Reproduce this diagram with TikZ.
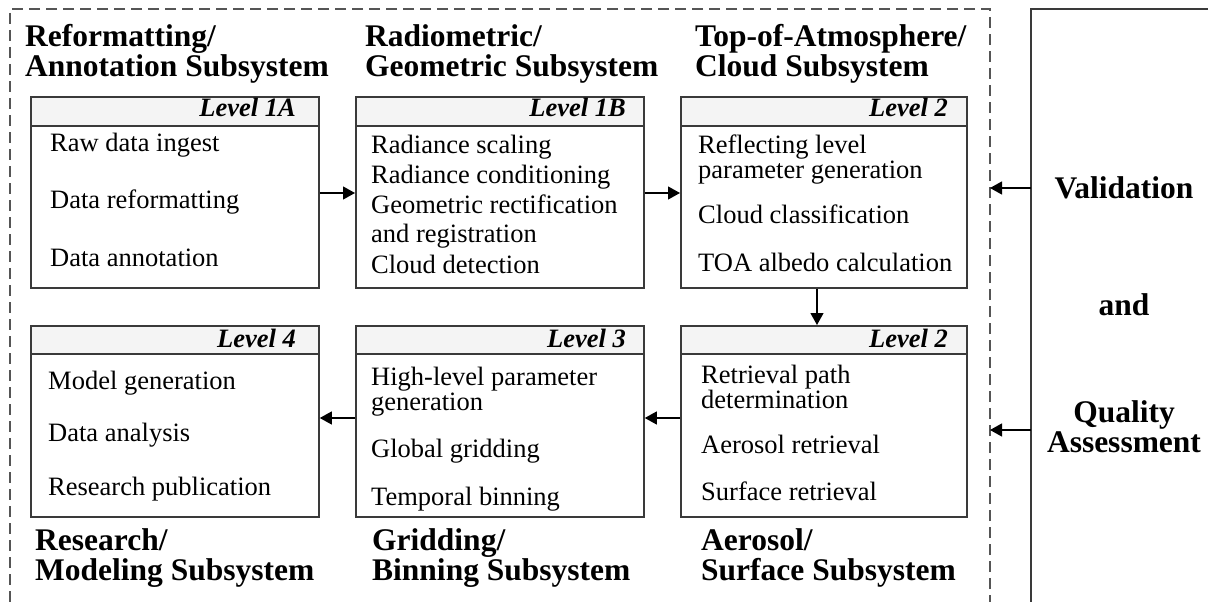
\documentclass[tikz,border=0pt]{standalone}
\usepackage{fontspec}
\setmainfont{Liberation Serif}
\usetikzlibrary{arrows.meta}
\definecolor{boxc}{HTML}{3A3A3A}
\definecolor{hdrc}{HTML}{F4F4F4}
\definecolor{framec}{HTML}{555555}
\begin{document}
\begin{tikzpicture}[x=1pt,y=-1pt,
  boxn/.style={draw=boxc, line width=1.8pt, fill=white, anchor=north west, minimum width=#1, minimum height=191pt, inner sep=0pt},
  hdrn/.style={draw=boxc, line width=1.8pt, fill=hdrc, anchor=north west, minimum width=#1, minimum height=29pt, inner sep=0pt},
  bodyt/.style={anchor=base west, inner sep=0pt, font=\fontsize{26.5}{30}\selectfont},
  lvlt/.style={anchor=base east, inner sep=0pt, font=\fontsize{26.5}{30}\selectfont\bfseries\itshape},
  headt/.style={anchor=base west, inner sep=0pt, align=left, font=\fontsize{31.5}{30}\selectfont\bfseries},
  sidet/.style={anchor=base, inner sep=0pt, font=\fontsize{31.5}{32}\selectfont\bfseries},
  arr/.style={-{Triangle[length=12pt,width=13pt]}, line width=1.2pt, black},
  framel/.style={draw=framec, line width=1.1pt, dash pattern=on 11pt off 6pt},
  sidel/.style={draw=boxc, line width=1.3pt}]
\useasboundingbox (0,0) rectangle (1208,602);
\clip (0,0) rectangle (1208,602);
\fill[white] (0,0) rectangle (1208,602);

% frames
\coordinate (dfx) at (990,0);
\coordinate (slx) at (1031,0);
\draw[framel] (990,640) -- (990,9) -- (10,9) -- (10,640);
\draw[sidel] (1260,9) -- (1031,9) -- (1031,640);

% boxes top row
\node[boxn=288pt] (b1a) at (30,96) {};
\node[hdrn=288pt] (h1a) at (30,96) {};
\node[boxn=288pt] (b1b) at (355,96) {};
\node[hdrn=288pt] (h1b) at (355,96) {};
\node[boxn=286pt] (b2t) at (680,96) {};
\node[hdrn=286pt] (h2t) at (680,96) {};
% boxes bottom row
\node[boxn=288pt] (b4) at (30,325) {};
\node[hdrn=288pt, minimum height=28pt] (h4) at (30,325) {};
\node[boxn=288pt] (b3) at (355,325) {};
\node[hdrn=288pt, minimum height=28pt] (h3) at (355,325) {};
\node[boxn=286pt] (b2b) at (680,325) {};
\node[hdrn=286pt, minimum height=28pt] (h2b) at (680,325) {};

% level labels
\node[lvlt] (l1a) at (296,117) {Level 1A};
\node[lvlt] (l1b) at (626,117) {Level 1B};
\node[lvlt] (l2t) at (948,117) {Level 2};
\node[lvlt] (l4) at (296,347) {Level 4};
\node[lvlt] (l3) at (626,347) {Level 3};
\node[lvlt] (l2b) at (948,347) {Level 2};

% headings (base = baseline of the last line)
\node[headt] (t1) at (25,77) {Reformatting/\\Annotation Subsystem};
\node[headt] (t2) at (365,77) {Radiometric/\\Geometric Subsystem};
\node[headt] (t3) at (695,77) {Top-of-Atmosphere/\\Cloud Subsystem};
\node[headt] (t4) at (35,580) {Research/\\Modeling Subsystem};
\node[headt] (t5) at (372,580) {Gridding/\\Binning Subsystem};
\node[headt] (t6) at (701,580) {Aerosol/\\Surface Subsystem};

% box 1A
\node[bodyt] (a1) at (50,151) {Raw data ingest};
\node[bodyt] (a2) at (50,208) {Data reformatting};
\node[bodyt] (a3) at (50,266) {Data annotation};
% box 1B
\node[bodyt] (c1) at (371,153) {Radiance scaling};
\node[bodyt] (c2) at (371,183) {Radiance conditioning};
\node[bodyt] (c3) at (371,213) {Geometric rectification};
\node[bodyt] (c4) at (371,242) {and registration};
\node[bodyt] (c5) at (371,273) {Cloud detection};
% box 2 top
\node[bodyt] (d1) at (698,153) {Reflecting level};
\node[bodyt] (d2) at (698,178) {parameter generation};
\node[bodyt] (d3) at (698,223) {Cloud classification};
\node[bodyt] (d4) at (698,271) {TOA albedo calculation};
% box 4
\node[bodyt] (e1) at (48,389) {Model generation};
\node[bodyt] (e2) at (48,441) {Data analysis};
\node[bodyt] (e3) at (48,495) {Research publication};
% box 3
\node[bodyt] (f1) at (371,385) {High-level parameter};
\node[bodyt] (f2) at (371,410) {generation};
\node[bodyt] (f3) at (371,457) {Global gridding};
\node[bodyt] (f4) at (371,505) {Temporal binning};
% box 2 bottom
\node[bodyt] (g1) at (701,383) {Retrieval path};
\node[bodyt] (g2) at (701,408) {determination};
\node[bodyt] (g3) at (701,453) {Aerosol retrieval};
\node[bodyt] (g4) at (701,500) {Surface retrieval};

% side texts
\node[sidet] (s1) at (1124,198) {Validation};
\node[sidet] (s2) at (1124,315) {and};
\node[sidet] (s3) at (1124,422) {Quality};
\node[sidet] (s4) at (1124,452) {Assessment};

% connectors
\coordinate (ya) at (0,193);
\coordinate (yb) at (0,418);
\coordinate (xd) at (817,0);
\coordinate (yv) at (0,188);
\coordinate (yq) at (0,430);
\draw[arr] (b1a.east |- ya) -- (b1b.west |- ya);
\draw[arr] (b1b.east |- ya) -- (b2t.west |- ya);
\draw[arr] (b2t.south -| xd) -- (h2b.north -| xd);
\draw[arr] (b2b.west |- yb) -- (b3.east |- yb);
\draw[arr] (b3.west |- yb) -- (b4.east |- yb);
\draw[arr] (slx |- yv) -- (dfx |- yv);
\draw[arr] (slx |- yq) -- (dfx |- yq);
\end{tikzpicture}
\end{document}
